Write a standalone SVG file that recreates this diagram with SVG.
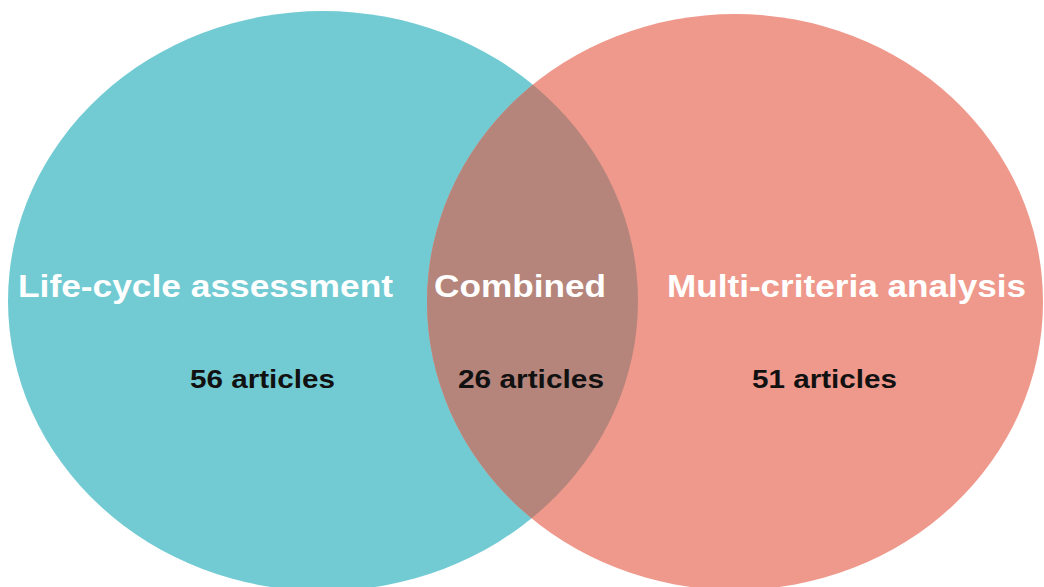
<svg xmlns="http://www.w3.org/2000/svg" width="1044" height="587" viewBox="0 0 1044 587">
<style>
.title{font-family:"Liberation Sans",Arial,sans-serif;font-weight:bold;font-size:31px;fill:#ffffff}
.count{font-family:"Liberation Sans",Arial,sans-serif;font-weight:bold;font-size:25px;fill:#111111}
</style>
<defs>
<clipPath id="clipLeft"><ellipse cx="323" cy="301" rx="315" ry="290"/></clipPath>
</defs>
<rect width="1044" height="587" fill="#ffffff"/>
<g id="lca">
<ellipse cx="323" cy="301" rx="315" ry="290" fill="#72CBD3"/>
</g>
<g id="mca">
<ellipse cx="735" cy="302" rx="308" ry="288" fill="#EF998C"/>
</g>
<g id="combined">
<ellipse cx="735" cy="302" rx="308" ry="288" fill="#B5857C" clip-path="url(#clipLeft)"/>
</g>
<g id="labels">
<text class="title" x="18" y="297" textLength="375" lengthAdjust="spacingAndGlyphs">Life-cycle assessment</text>
<text class="title" x="434" y="297" textLength="172" lengthAdjust="spacingAndGlyphs">Combined</text>
<text class="title" x="667" y="297" textLength="359" lengthAdjust="spacingAndGlyphs">Multi-criteria analysis</text>
<text class="count" x="190" y="388" textLength="145" lengthAdjust="spacingAndGlyphs">56 articles</text>
<text class="count" x="458" y="388" textLength="146" lengthAdjust="spacingAndGlyphs">26 articles</text>
<text class="count" x="752" y="388" textLength="145" lengthAdjust="spacingAndGlyphs">51 articles</text>
</g>
<g id="connectors"></g>
</svg>
